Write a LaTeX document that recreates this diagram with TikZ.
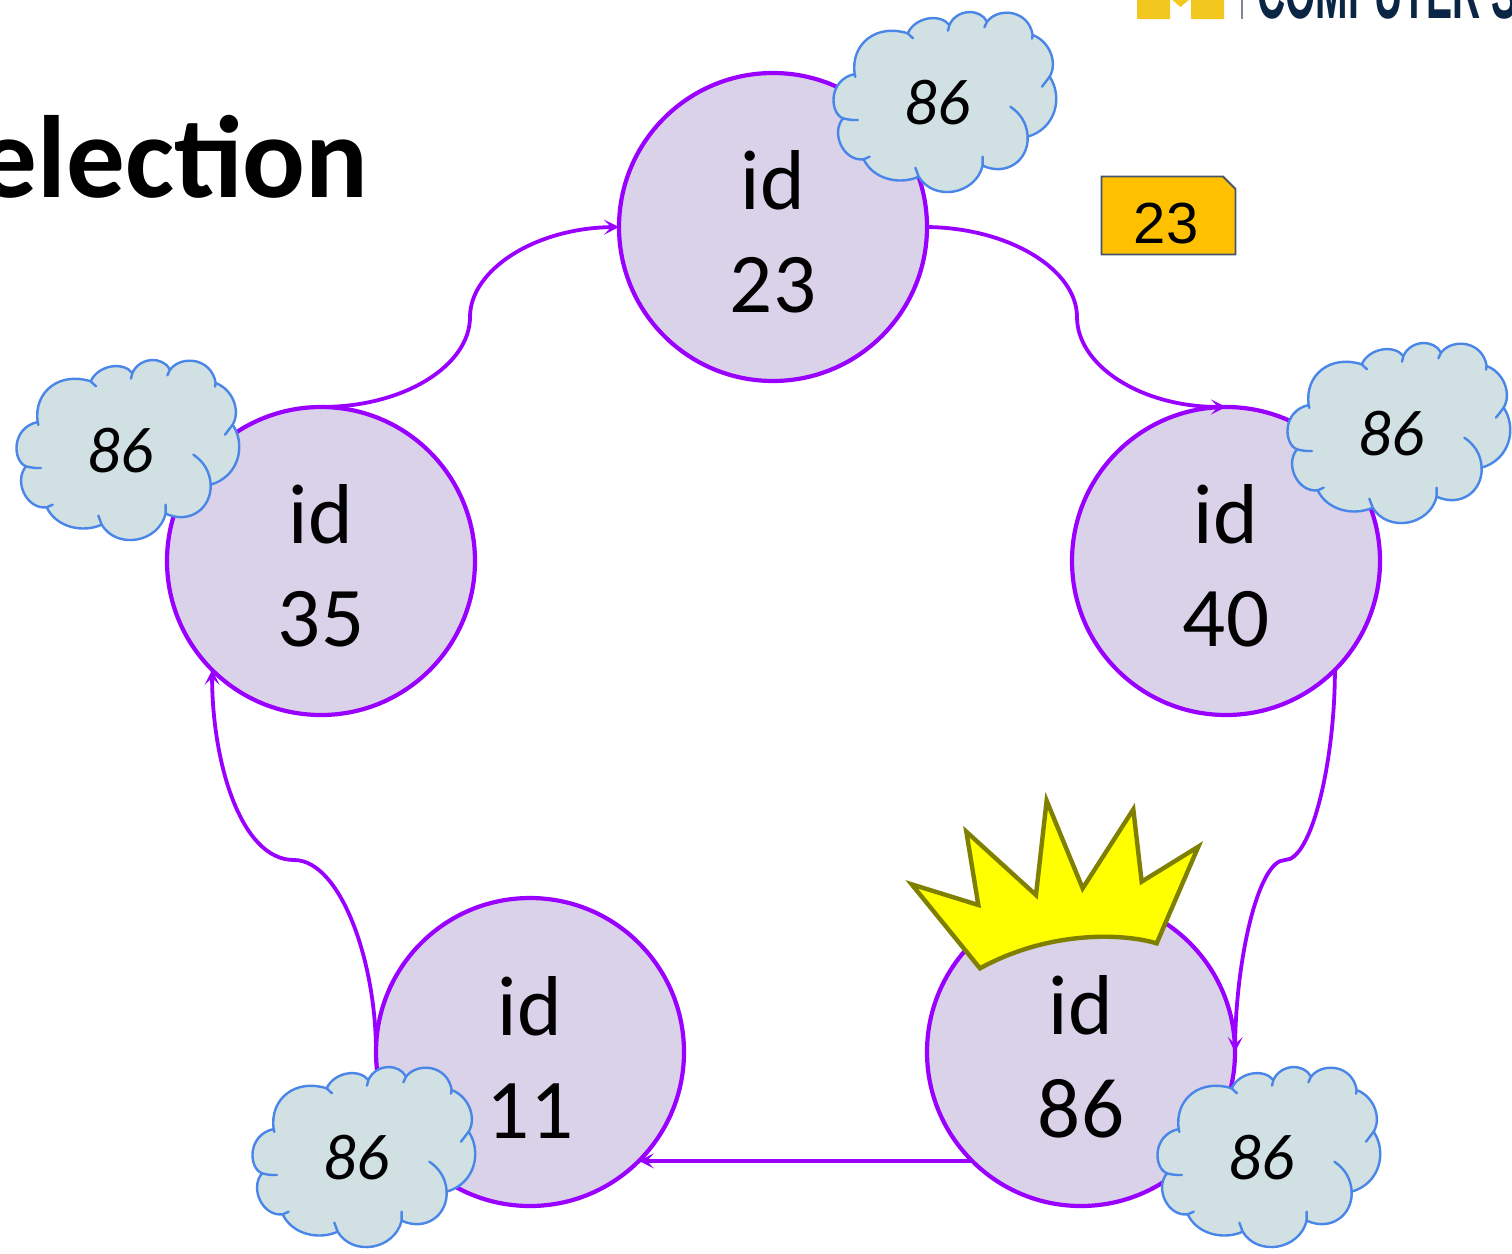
\documentclass[tikz,border=0pt]{standalone}
\usepackage{fontspec}
\setmainfont{Carlito}
\newfontfamily\liberation{Liberation Sans}
\usetikzlibrary{arrows.meta}
\definecolor{ringpurple}{HTML}{9900FF}
\definecolor{ringfill}{HTML}{D9D2E9}
\definecolor{cloudfill}{HTML}{D0E0E3}
\definecolor{cloudline}{HTML}{4A86E8}
\definecolor{tagfill}{HTML}{FFC000}
\definecolor{tagline}{HTML}{44546A}
\definecolor{crownline}{HTML}{7F7F00}
\definecolor{crownfill}{HTML}{FFFF00}
\definecolor{logoyellow}{HTML}{F2C81E}
\definecolor{logonavy}{HTML}{0B2545}
\tikzset{
  peer/.style={circle,draw=ringpurple,fill=ringfill,line width=4.2pt,minimum size=308pt,inner sep=0pt,outer sep=0pt,align=center},
  peertext/.style={inner sep=0pt,align=center,font=\fontsize{85}{103}\selectfont},
  link/.style={draw=ringpurple,line width=3.8pt,-{Stealth[length=15pt,width=15pt,inset=7pt]}},
  cloudtext/.style={font=\fontsize{65}{65}\selectfont\itshape,inner sep=0pt},
  cloudpic/.pic={
    \begin{scope}[x=0.33333pt,y=-0.33333pt,shift={(-350,-300)}]
      \filldraw[fill=cloudfill,draw=cloudline,line width=2.4pt,line join=round]
        (103,222) .. controls (90,130) and (170,70) .. (262,100)
        .. controls (285,50) and (360,40) .. (387,75)
        .. controls (410,25) and (480,25) .. (500,65)
        .. controls (535,20) and (625,30) .. (637,105)
        .. controls (690,125) and (712,190) .. (688,230)
        .. controls (728,290) and (708,385) .. (622,410)
        .. controls (625,480) and (560,530) .. (487,497)
        .. controls (465,585) and (340,605) .. (295,530)
        .. controls (240,555) and (160,540) .. (130,478)
        .. controls (70,485) and (30,400) .. (68,355)
        .. controls (28,340) and (22,240) .. (103,222) -- cycle;
      \draw[cloudline,line width=2.4pt,line cap=round]
        (262,100) -- (278,115)
        (387,75) -- (383,92)
        (500,65) -- (492,82)
        (637,105) -- (635,116)
        (688,230) -- (665,260)
        (622,410) .. controls (620,370) and (600,340) .. (570,320)
        (487,497) -- (487,470)
        (295,530) -- (285,503)
        (130,478) -- (148,470)
        (68,355) .. controls (80,358) and (95,361) .. (113,360)
        (103,222) -- (105,231);
      \node[cloudtext] (label) at (351,309) {86};
    \end{scope}
  }
}
\begin{document}
\begin{tikzpicture}[x=1pt,y=-1pt]
\useasboundingbox (0,0) rectangle (1512,1253);
% title
\node[anchor=base east,inner sep=0pt,font=\fontsize{117}{117}\selectfont\bfseries] (title) at (368.5,197) {election};
% logo
\fill[logoyellow] (1137,-2) -- (1224,-2) -- (1224,19) -- (1191,19) -- (1191,-2) -- (1180.5,7) -- (1170,-2) -- (1170,19) -- (1137,19) -- cycle;
\draw[tagline!70,line width=1.2pt] (1242,-2) -- (1242,19);
\node[anchor=base west,inner sep=0pt,text=logonavy,xscale=0.5,font=\liberation\bfseries\fontsize{78}{78}\selectfont] (logo) at (1257,18.5) {COMPUTER S};
% peers
\node[peer] (n23) at (773,227) {};
\node[peer] (n40) at (1226,561) {};
\node[peer] (n35) at (321,561) {};
\node[peer] (n11) at (530,1052) {};
\node[peer] (n86) at (1081,1052) {};
\node[peertext] (t23) at (773,232) {id\\23};
\node[peertext] (t40) at (1226,566) {id\\40};
\node[peertext] (t35) at (321,566) {id\\35};
\node[peertext] (t11) at (530,1057) {id\\11};
\node[peertext] (t86) at (1081,1057) {id\\86};
% connectors
\coordinate (m2340) at (1077,317);
\coordinate (m4086) at (1285,860);
\coordinate (m1135) at (294,860);
\coordinate (m3523) at (470,317);
\draw[link] (n23.east) .. controls (1010,228) and (1077,270) .. (m2340) .. controls (1077,365) and (1140,407) .. (n40.north);
\draw[link] (n40.south east) .. controls (1335,760) and (1312,860) .. (m4086) .. controls (1258,860) and (1236,960) .. (n86.east);
\draw[link] (n86.south west) -- (n11.south east);
\draw[link] (n11.west) .. controls (376,960) and (340,860) .. (m1135) .. controls (240,860) and (212,760) .. (n35.south west);
\draw[link] (n35.north) .. controls (405,407) and (470,365) .. (m3523) .. controls (470,270) and (535,228) .. (n23.west);
% crown
\begin{scope}[x=0.33333pt,y=-0.33333pt,shift={(2670,2340)}]
\filldraw[fill=crownfill,draw=crownline,line width=4.4pt,line join=miter]
  (65,313) -- (265,375) -- (229,155) -- (438,345) -- (470,62) -- (578,325) -- (730,88) -- (755,305) -- (925,200) -- (800,490)
  .. controls (700,460) and (480,450) .. (270,565) -- cycle;
\end{scope}
% tag
\filldraw[fill=tagfill,draw=tagline,line width=1.8pt] (1101.5,176.5) -- (1223,176.5) -- (1235.5,189) -- (1235.5,254.5) -- (1101.5,254.5) -- cycle;
\node[inner sep=0pt,font=\liberation\fontsize{58}{58}\selectfont] (tag) at (1166,224) {23};
% clouds
\pic (c1) at (937,100) {cloudpic};
\pic (c2) at (1391,431) {cloudpic};
\pic (c3) at (120,448) {cloudpic};
\pic (c4) at (356,1155) {cloudpic};
\pic (c5) at (1261,1155) {cloudpic};
\end{tikzpicture}
\end{document}
